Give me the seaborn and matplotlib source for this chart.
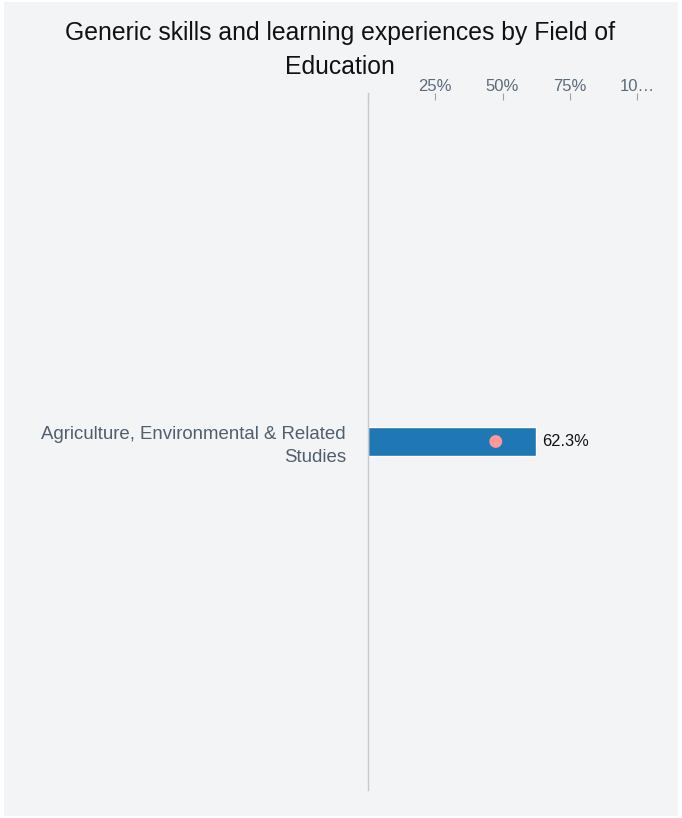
import matplotlib
matplotlib.use("Agg")
import matplotlib.pyplot as plt
import seaborn as sns
import pandas as pd
from matplotlib.patches import Rectangle

categories = ["Agriculture, Environmental & Related\nStudies"]
values = [62.3]
benchmark = [47.5]
tick_values = [0, 25, 50, 75, 100]
tick_labels = ["", "25%", "50%", "75%", "10…"]
title_lines = ["Generic skills and learning experiences by Field of", "Education"]

sns.set_theme(style="white")
plt.rcParams["font.family"] = ["Liberation Sans", "DejaVu Sans"]

BG = "#f3f4f6"
fig = plt.figure(figsize=(6.82, 8.18), dpi=100, facecolor="white")
fig.patches.append(Rectangle((4/682, 2/818), 674/682, 814/818, transform=fig.transFigure,
                             facecolor=BG, edgecolor="none", zorder=-10))
ax = fig.add_axes([368/682, 1-790/818, 269/682, 697/818])
ax.set_facecolor(BG)

df = pd.DataFrame({"cat": categories, "val": values, "bench": benchmark})
sns.barplot(data=df, y="cat", x="val", orient="h", color="#1f77b4", saturation=1,
            width=0.042, ax=ax)
sns.scatterplot(data=df, y="cat", x="bench", color="#ff9896", s=85, edgecolor="none",
                ax=ax, zorder=5)
for v, c in zip(values, range(len(categories))):
    ax.text(v + 2.5, c, f"{v}%", va="center", ha="left", fontsize=11.8, color="#111111")

ax.set_xlim(0, 100)
ax.set_ylim(0.5, -0.5)
ax.xaxis.tick_top()
ax.set_xticks(tick_values)
ax.set_xticklabels(tick_labels, fontsize=12, color="#5b6b7a")
ax.tick_params(axis="x", direction="in", length=5, width=0.8, color="#9aa3ad", pad=-1, top=True)
ax.tick_params(axis="y", length=0, pad=16, labelsize=13.4, labelcolor="#4f5f6e")
for lbl in ax.get_yticklabels():
    lbl.set_ha("right")
    lbl.set_multialignment("right")
    lbl.set_linespacing(1.4)
ax.set_xlabel("")
ax.set_ylabel("")
for s in ["top", "right", "bottom"]:
    ax.spines[s].set_visible(False)
ax.spines["left"].set_color("#c6c9cc")
ax.spines["left"].set_linewidth(1)

for line, ypix in zip(title_lines, [33, 67]):
    fig.text(340/682, 1-ypix/818, line, ha="center", va="center", fontsize=17.8,
             color="#111111")

fig.savefig("out.png", dpi=100, facecolor="white")
